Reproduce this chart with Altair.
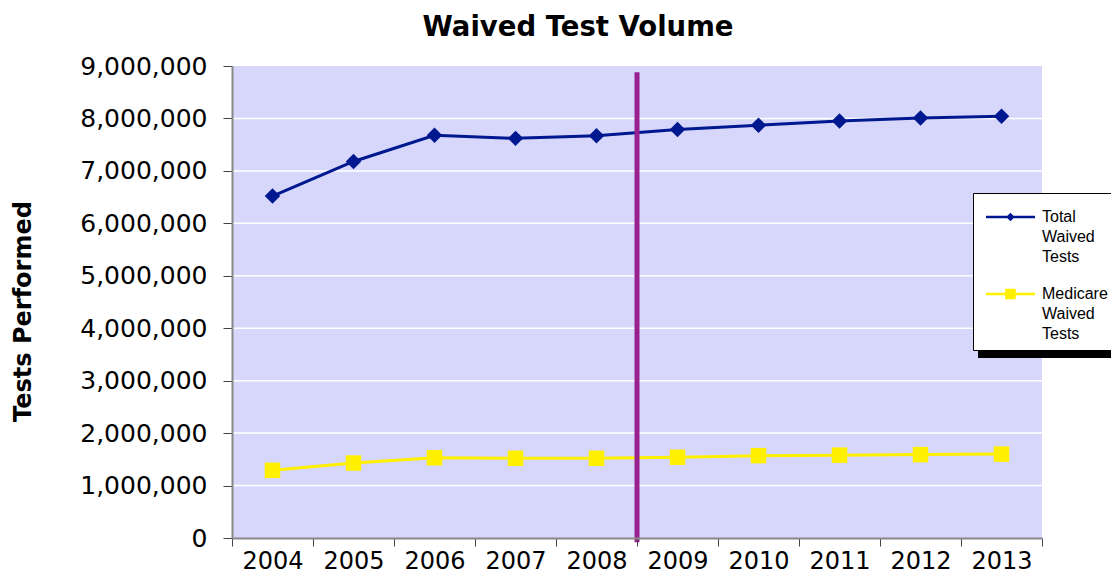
import altair as alt
import pandas as pd

years = ["2004", "2005", "2006", "2007", "2008", "2009", "2010", "2011", "2012", "2013"]
total_waived = [6520000, 7180000, 7680000, 7620000, 7670000, 7790000, 7870000, 7950000, 8010000, 8040000]
medicare_waived = [1290000, 1430000, 1530000, 1520000, 1520000, 1540000, 1570000, 1580000, 1590000, 1600000]
series_names = ["Total Waived Tests", "Medicare Waived Tests"]
series_colors = ["#00188F", "#FFF000"]
y_ticks = [0, 1000000, 2000000, 3000000, 4000000, 5000000, 6000000, 7000000, 8000000, 9000000]
marker_year = ["2009"]
marker_top = [8880000]
marker_bottom = [-80000]

rows = []
for y, t, m in zip(years, total_waived, medicare_waived):
    rows.append({"year": y, "series": series_names[0], "value": t})
    rows.append({"year": y, "series": series_names[1], "value": m})
df = pd.DataFrame(rows)
df["legend_series"] = df["series"]

marker_df = pd.DataFrame({"year": marker_year, "top": marker_top, "bottom": marker_bottom})
grid_df = pd.DataFrame({"value": y_ticks[1:-1]})

FONT = "DejaVu Sans"
PLOT_BG = "#D6D7FB"

x_scale = alt.Scale(domain=years, paddingInner=0, paddingOuter=0)
x_enc = alt.X(
    "year:O",
    scale=x_scale,
    axis=alt.Axis(
        title=None, labelAngle=0, tickBand="extent", grid=False, zindex=2,
        labelFont=FONT, labelFontSize=24, labelColor="black", labelPadding=3,
        tickSize=8, tickColor="#444444", domainColor="#888888", domainWidth=2,
    ),
)
y_scale = alt.Scale(domain=[0, 9000000], nice=False)
y_enc = alt.Y(
    "value:Q",
    scale=y_scale,
    axis=alt.Axis(
        title="Tests Performed", format=",d", values=y_ticks, grid=False, zindex=2,
        labelFont=FONT, labelFontSize=25, labelColor="black", labelPadding=16,
        tickSize=9, tickColor="#444444", domainColor="#888888", domainWidth=2,
        titleFont=FONT, titleFontSize=24, titleFontWeight="bold", titleColor="black",
        titlePadding=44, titleY=245,
    ),
)

background = alt.Chart(marker_df).mark_rect(color=PLOT_BG).encode(
    x=alt.value(0), x2=alt.value("width"), y=alt.value(0), y2=alt.value("height"),
)
gridlines = alt.Chart(grid_df).mark_rule(color="white", strokeWidth=1.5).encode(
    y=alt.Y("value:Q", scale=y_scale),
)

color_scale = alt.Scale(domain=series_names, range=series_colors)

lines = alt.Chart(df).mark_line(strokeWidth=3).encode(
    x=x_enc, y=y_enc,
    color=alt.Color("series:N", scale=color_scale, legend=None),
)
points = alt.Chart(df).mark_point(filled=True, opacity=1, size=240).encode(
    x=x_enc, y=y_enc,
    color=alt.Color("series:N", scale=color_scale, legend=None),
    shape=alt.Shape("series:N", scale=alt.Scale(domain=series_names, range=["diamond", "square"]), legend=None),
)

marker = alt.Chart(marker_df).mark_rule(color="#97228F", strokeWidth=5).encode(
    x=alt.X("year:O", bandPosition=0, scale=x_scale),
    y=alt.Y("top:Q", scale=y_scale),
    y2="bottom:Q",
)

# legend glyphs: line segment with a marker in the middle (units of 16px)
legend_paths = [
    "M-0.69,-0.075L2.375,-0.075L2.375,0.075L-0.69,0.075Z"
    "M0.84,-0.27L1.11,0L0.84,0.27L0.57,0Z",
    "M-0.69,-0.075L2.375,-0.075L2.375,0.075L-0.69,0.075Z"
    "M0.51,-0.33L1.17,-0.33L1.17,0.33L0.51,0.33Z",
]
leg = alt.Legend(
    title=None, orient="none", legendX=741, legendY=127,
    labelExpr="split(datum.label, ' ')",
    labelFont="Liberation Sans", labelFontSize=16, labelColor="black",
    labelOffset=29, symbolSize=1024, symbolStrokeWidth=0, rowPadding=13,
    strokeColor="black", fillColor="white", padding=8, labelLimit=200,
)
legend_layer = alt.Chart(df).transform_filter("false").mark_point(filled=True, opacity=1, size=1024).encode(
    color=alt.Color("legend_series:N", scale=alt.Scale(domain=series_names, range=series_colors), legend=leg),
    shape=alt.Shape("legend_series:N", scale=alt.Scale(domain=series_names, range=legend_paths), legend=leg),
)

shadow = alt.Chart(marker_df).mark_rect(color="black").encode(
    x=alt.value(746), x2=alt.value(900), y=alt.value(133), y2=alt.value(292),
)

chart = alt.layer(background, gridlines, shadow, lines, points, marker, legend_layer).resolve_scale(
    color="independent", shape="independent"
).properties(
    width=810, height=472,
    autosize=alt.AutoSizeParams(type="none"),
    padding={"left": 224, "top": 58, "right": 69, "bottom": 37},
    title=alt.TitleParams(
        "Waived Test Volume", font=FONT, fontSize=27.5, fontWeight="bold",
        color="black", anchor="middle", dx=-59, offset=13,
    ),
).configure(
    style={"guide-label": {"lineHeight": 20}},
    view=alt.ViewConfig(stroke="transparent"),
)

chart.save("out.html", embed_options={"renderer": "svg", "actions": False})
